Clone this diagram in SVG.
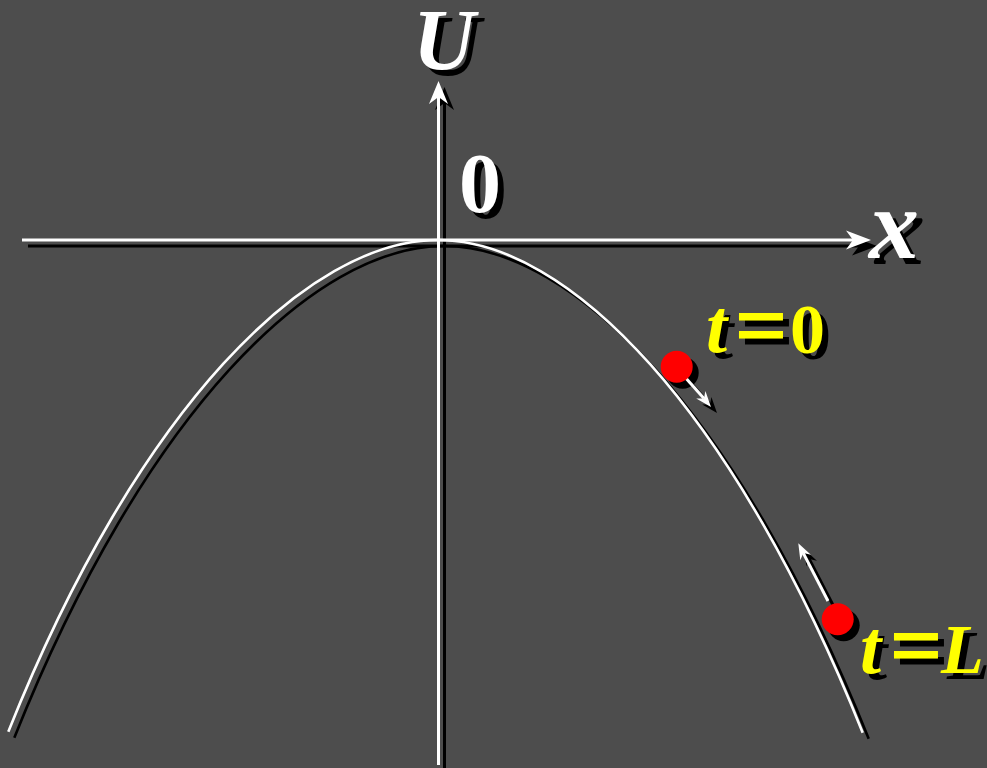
<svg xmlns="http://www.w3.org/2000/svg" xmlns:xlink="http://www.w3.org/1999/xlink" width="987" height="768" viewBox="0 0 987 768">
<style>
.w{stroke:#fff}
.k{stroke:#000}
.wf{fill:#fff}
.kf{fill:#000}
.lbl{font-family:"Liberation Serif","Times New Roman",serif;font-weight:bold}
.it{font-style:italic}
.eq{font-size:92px;stroke-width:1.2}
</style>
<defs>
<path id="curve" d="M8.3,731.7 C138.3,406.7 308,240 438,240 C568,240 732.7,407.7 862.7,732.7" fill="none" stroke-width="2.6"/>
<path id="xaxis" d="M22,240 L853,240" fill="none" stroke-width="3"/>
<path id="xhead" d="M871,240 L846,230.5 L853,240 L846,249.5 Z"/>
<path id="yaxis" d="M438.5,765 L438.5,97" fill="none" stroke-width="3"/>
<path id="yhead" d="M438.5,81 L429,104 L438.5,97 L448,104 Z"/>
<path id="a1" d="M684,376 L704,398.5" fill="none" stroke-width="3"/>
<path id="a1h" d="M711,407 L705.4,390.9 L704,398.5 L696.2,398.5 Z"/>
<path id="a2" d="M828,601 L803.3,553.1" fill="none" stroke-width="3"/>
<path id="a2h" d="M798.3,543.3 L810.9,554.8 L803.3,553.1 L800.3,560.2 Z"/>
</defs>
<rect width="987" height="768" fill="#4d4d4d"/>

<g id="shadows" transform="translate(6,6)">
<use xlink:href="#curve" class="k"/>
<use xlink:href="#xaxis" class="k"/>
<use xlink:href="#xhead" class="kf"/>
<use xlink:href="#yaxis" class="k"/>
<use xlink:href="#yhead" class="kf"/>
<use xlink:href="#a1" class="k"/>
<use xlink:href="#a1h" class="kf"/>
<use xlink:href="#a2" class="k"/>
<use xlink:href="#a2h" class="kf"/>
<circle cx="676.7" cy="366.7" r="16"/>
<circle cx="837.7" cy="619.3" r="16"/>
</g>

<g id="axes">
<use xlink:href="#xaxis" class="w"/>
<use xlink:href="#xhead" class="wf"/>
<use xlink:href="#yaxis" class="w"/>
<use xlink:href="#yhead" class="wf"/>
</g>

<g id="parabola">
<use xlink:href="#curve" class="w"/>
</g>

<g id="connectors">
<use xlink:href="#a1" class="w"/>
<use xlink:href="#a1h" class="wf"/>
<use xlink:href="#a2" class="w"/>
<use xlink:href="#a2h" class="wf"/>
</g>

<g id="ball0">
<circle cx="676.7" cy="366.7" r="16" fill="#ff0000"/>
</g>
<g id="ballL">
<circle cx="837.7" cy="619.3" r="16" fill="#ff0000"/>
</g>

<g id="labelU" class="lbl it" font-size="86">
<text x="413" y="69" fill="#000" transform="translate(6,6)">U</text>
<text x="413" y="69" fill="#fff">U</text>
</g>
<g id="label0" class="lbl" font-size="84">
<text x="459" y="212" fill="#000" transform="translate(6,6)">0</text>
<text x="459" y="212" fill="#fff">0</text>
</g>
<g id="labelx" class="lbl it" font-size="100">
<text x="869" y="258" fill="#000" transform="translate(6,6)">x</text>
<text x="869" y="258" fill="#fff">x</text>
</g>

<g id="labelT0" class="lbl" font-size="70">
<g fill="#000" stroke="#000" transform="translate(6,6)">
<text x="706" y="352" class="it" font-size="76" stroke="none">t</text>
<text x="735" y="356" class="eq">=</text>
<text x="790" y="353" stroke="none">0</text>
</g>
<g fill="#ffff00" stroke="#ffff00">
<text x="706" y="352" class="it" font-size="76" stroke="none">t</text>
<text x="735" y="356" class="eq">=</text>
<text x="790" y="353" stroke="none">0</text>
</g>
</g>

<g id="labelTL" class="lbl" font-size="70">
<g fill="#000" stroke="#000" transform="translate(6,6)">
<text x="860" y="673" class="it" font-size="76" stroke="none">t</text>
<text x="890" y="676" class="eq">=</text>
<text x="941" y="673" class="it" stroke="none">L</text>
</g>
<g fill="#ffff00" stroke="#ffff00">
<text x="860" y="673" class="it" font-size="76" stroke="none">t</text>
<text x="890" y="676" class="eq">=</text>
<text x="941" y="673" class="it" stroke="none">L</text>
</g>
</g>
</svg>
